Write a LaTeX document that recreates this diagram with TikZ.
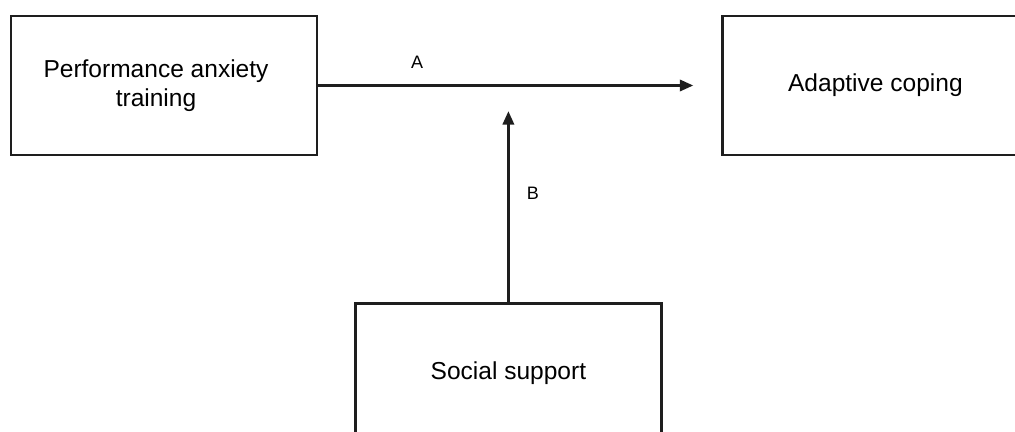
\documentclass[tikz,border=0pt]{standalone}
\usepackage{fontspec}
\setmainfont{Liberation Sans}
\usepackage{tikz}
\usetikzlibrary{
  arrows.meta,
  positioning
}
\definecolor{BoxLine}{HTML}{1E1E1E}

\begin{document}
\begin{tikzpicture}[x=0.75pt,y=0.75pt,
    factor/.style={draw=BoxLine,line width=1.8pt,minimum width=229.5pt,
      minimum height=104.25pt,inner sep=0pt,align=center,
      font=\fontsize{18.4}{21.5}\selectfont},
    effect/.style={draw=BoxLine,line width=1.8pt,
      -{Triangle[length=10pt,width=8.5pt]}},
    lbl/.style={inner sep=0pt,font=\fontsize{13.5}{16}\selectfont}]
  \clip (0,0) rectangle (1015,432);
  % the three boxes
  \node[factor] (training) at (164,346.5) {Performance anxiety\hspace*{12pt}\\training\hspace*{12pt}};
  \node[factor,right=302.25pt of training] (coping) {Adaptive coping};
  \node[factor,below right=109.5pt and 27pt of training] (support) {Social support};
  % paths
  \coordinate (tipA) at ([xshift=-21pt]coping.west);
  \draw[effect] (training.east) -- node[lbl,pos=0.264,above=11.6pt] {A} (tipA);
  \coordinate (tipB) at ([yshift=143.25pt]support.north);
  \draw[effect] (support.north) -- node[lbl,pos=0.57,right=13pt] {B} (tipB);
\end{tikzpicture}
\end{document}
